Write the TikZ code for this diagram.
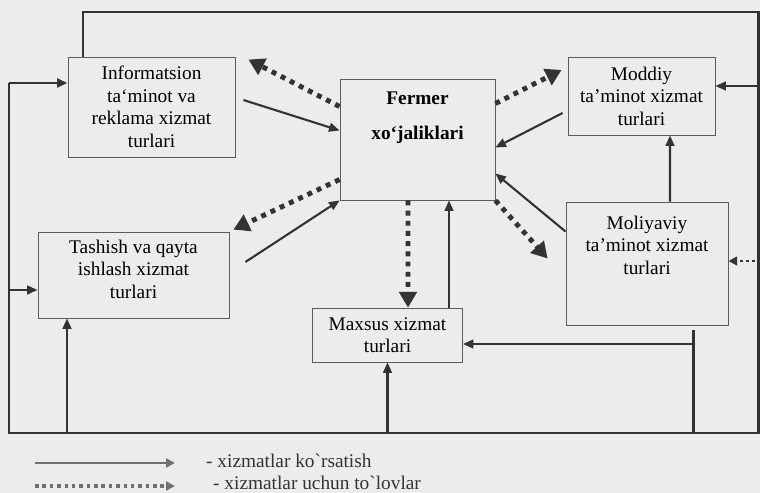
\documentclass[tikz,border=0pt]{standalone}
\usepackage{fontspec}
\setmainfont{Liberation Serif}
\usetikzlibrary{arrows.meta,calc}

\definecolor{ink}{HTML}{333333}
\definecolor{paper}{HTML}{ECECEC}

\tikzset{
  box/.style={draw=ink!80,line width=0.5pt,align=center,inner sep=2pt,
    font=\fontsize{11}{12.8}\selectfont},
  serv/.style={draw=ink,line width=1.2pt,-{Triangle[length=6pt,width=5pt]}},
  pay/.style={draw=ink,line width=2.8pt,dash pattern=on 2.8pt off 3pt,
    -{Triangle[length=9pt,width=10pt]}},
  smallpay/.style={draw=ink,line width=1.5pt,dash pattern=on 1.5pt off 2pt,
    -{Triangle[length=5pt,width=5pt]}},
  frame/.style={draw=ink,line width=1.7pt},
  legtext/.style={anchor=west,font=\fontsize{11}{13}\selectfont,text=ink}
}

\begin{document}
\begin{tikzpicture}[x=0.02cm,y=-0.02cm]
\fill[paper] (0,0) rectangle (760,493);
\useasboundingbox (0,0) rectangle (760,493);

% boxes
\node[box,minimum width=3.34cm,minimum height=2cm] (info) at (151.5,107)
  {Informatsion\\ta‘minot va\\reklama xizmat\\turlari};
\node[box,minimum width=3.1cm,minimum height=2.42cm,
  label={[anchor=north,yshift=-4pt,align=center,font=\fontsize{11}{12.8}\selectfont\bfseries]north:Fermer\\[7pt]xo‘jaliklari}] (fermer) at (417.5,139.5) {};
\node[box,minimum width=2.94cm,minimum height=1.56cm] (moddiy) at (641.5,96)
  {Moddiy\\ta’minot xizmat\\turlari};
\node[box,minimum width=3.24cm,minimum height=2.46cm,
  label={[anchor=north,yshift=-4.5pt,align=center,font=\fontsize{11}{12.8}\selectfont]north:Moliyaviy\\ta’minot xizmat\\turlari}] (moliya) at (647,263.5) {};
\node[box,minimum width=3.82cm,minimum height=1.72cm] (tashish) at (133.5,275)
  {Tashish va qayta\\ishlash xizmat\\turlari\\[-6pt]};
\node[box,minimum width=3cm,minimum height=1.08cm] (maxsus) at (387.5,335)
  {Maxsus xizmat\\turlari};

% frame
\coordinate (tl) at (83,12);
\coordinate (tr) at (758,12);
\coordinate (br) at (758,433);
\coordinate (bl) at (9,433);
\coordinate (lt) at (9,83);
\draw[frame] (info.north west -| tl) -- (tl) -- (tr) -- (br) -- (bl) -- (lt);
\draw[frame,-{Triangle[length=6pt,width=5pt]}] (lt) -- (info.west |- lt);
\draw[serv] (moddiy.east |- tr) ++(0,74) coordinate (rm) (rm -| tr) -- (rm);
\draw[serv] (9,290) coordinate (lm) -- (tashish.west |- lm);
\draw[serv] (67,433) coordinate (b1) -- (tashish.south -| b1);
\draw[serv] (maxsus.south |- bl) -- (maxsus.south);
\draw[frame] (693,330) coordinate (mv) -- (mv |- bl);
\draw[serv] (mv |- 0,344) -- (maxsus.east |- 0,344);
\draw[smallpay] (761,261) coordinate (rp) -- (moliya.east |- rp);

% services
\draw[serv] ($(info.east)+(8,-7)$) -- ($(fermer.west)+(0,-9)$);
\draw[serv] ($(tashish.east)+(16,-13)$) -- (fermer.south west);
\draw[serv] ($(moddiy.west)+(-5,17)$) -- ($(fermer.east)+(0,8)$);
\draw[serv] ($(moliya.north west)+(0,30)$) -- ($(fermer.east)+(0,34)$);
\draw[serv] ($(maxsus.north)+(61.5,0)$) -- ($(fermer.south)+(31.5,0)$);
\draw[serv] ($(moliya.north)+(23,0)$) -- ($(moddiy.south)+(28.5,0)$);

% payments
\draw[pay] ($(fermer.west)+(0,-33)$) -- ($(info.north east)+(13,3)$);
\draw[pay] ($(fermer.west)+(0,40)$) -- ($(tashish.north east)+(4,-2)$);
\draw[pay] ($(fermer.east)+(0,-36)$) -- ($(moddiy.west)+(-6,-26)$);
\draw[pay] (fermer.south east) -- ($(moliya.west)+(-18,-5)$);
\draw[pay] ($(fermer.south)+(-9.5,0)$) -- ($(maxsus.north)+(20.5,0)$);

% legend
\coordinate (l1) at (35,463);
\coordinate (l2) at (35,486);
\draw[ink!70,line width=1.6pt,-{Triangle[length=5pt,width=5pt]}] (l1) -- ++(140,0);
\draw[ink!70,line width=2pt,dash pattern=on 2pt off 2.2pt,-{Triangle[length=5pt,width=5pt]}] (l2) -- ++(140,0);
\node[legtext] (leg1) at (200,461) {- xizmatlar ko\textasciigrave rsatish};
\node[legtext] (leg2) at (207,483) {- xizmatlar uchun to\textasciigrave lovlar};
\end{tikzpicture}
\end{document}
